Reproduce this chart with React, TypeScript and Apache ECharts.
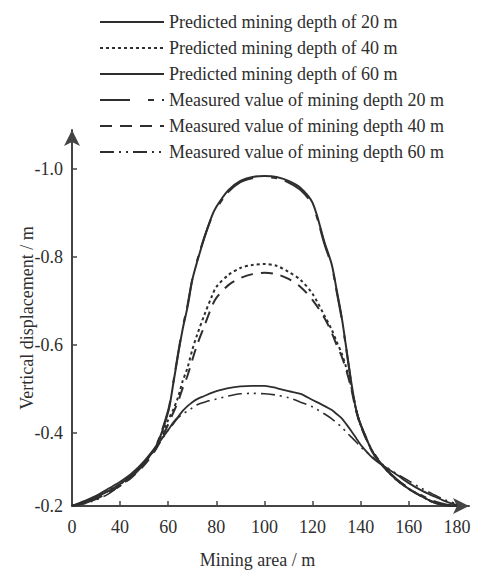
import React, { useEffect, useRef } from "react";
import * as echarts from "echarts";

// x positions along the mining area (axis units; origin labelled "0")
const xValues = [20, 25, 30, 35, 40, 45, 50, 55, 60, 62, 64, 66, 68, 70, 72, 75, 78, 80, 85, 90, 95, 100, 105, 110, 115, 120, 125, 128, 130, 132, 134, 136, 138, 140, 145, 150, 155, 160, 165, 170, 175, 180];

const predicted20 = [-0.234, -0.243, -0.255, -0.268, -0.284, -0.305, -0.332, -0.370, -0.448, -0.509, -0.575, -0.636, -0.686, -0.748, -0.789, -0.843, -0.891, -0.914, -0.952, -0.973, -0.982, -0.984, -0.982, -0.973, -0.957, -0.923, -0.832, -0.782, -0.725, -0.666, -0.593, -0.518, -0.455, -0.418, -0.357, -0.320, -0.293, -0.273, -0.257, -0.243, -0.236, -0.234];
const predicted40 = [-0.234, -0.243, -0.255, -0.268, -0.284, -0.305, -0.332, -0.370, -0.430, -0.452, -0.480, -0.518, -0.548, -0.589, -0.623, -0.668, -0.709, -0.732, -0.759, -0.775, -0.782, -0.784, -0.780, -0.766, -0.748, -0.716, -0.666, -0.634, -0.607, -0.582, -0.548, -0.507, -0.455, -0.418, -0.357, -0.320, -0.293, -0.273, -0.257, -0.243, -0.236, -0.234];
const predicted60 = [-0.234, -0.245, -0.257, -0.273, -0.289, -0.309, -0.336, -0.370, -0.407, -0.423, -0.436, -0.450, -0.461, -0.470, -0.477, -0.484, -0.491, -0.495, -0.502, -0.506, -0.507, -0.507, -0.502, -0.495, -0.489, -0.475, -0.461, -0.452, -0.443, -0.434, -0.420, -0.405, -0.389, -0.373, -0.343, -0.323, -0.305, -0.286, -0.270, -0.257, -0.245, -0.236];
const measured20 = [-0.234, -0.240, -0.251, -0.264, -0.280, -0.301, -0.330, -0.372, -0.452, -0.512, -0.578, -0.640, -0.690, -0.750, -0.792, -0.845, -0.889, -0.910, -0.948, -0.970, -0.979, -0.981, -0.979, -0.969, -0.952, -0.918, -0.828, -0.778, -0.721, -0.662, -0.590, -0.516, -0.455, -0.419, -0.359, -0.322, -0.295, -0.275, -0.259, -0.246, -0.238, -0.234];
const measured40 = [-0.234, -0.241, -0.250, -0.264, -0.280, -0.300, -0.327, -0.364, -0.420, -0.445, -0.470, -0.502, -0.530, -0.566, -0.600, -0.643, -0.686, -0.707, -0.736, -0.752, -0.761, -0.764, -0.761, -0.750, -0.732, -0.702, -0.661, -0.627, -0.600, -0.575, -0.543, -0.502, -0.452, -0.416, -0.355, -0.320, -0.293, -0.273, -0.257, -0.243, -0.236, -0.234];
const measured60 = [-0.234, -0.239, -0.248, -0.261, -0.280, -0.302, -0.332, -0.366, -0.407, -0.420, -0.434, -0.443, -0.450, -0.457, -0.464, -0.470, -0.475, -0.477, -0.484, -0.489, -0.490, -0.489, -0.486, -0.480, -0.470, -0.459, -0.443, -0.432, -0.423, -0.414, -0.402, -0.391, -0.380, -0.368, -0.345, -0.325, -0.307, -0.291, -0.275, -0.261, -0.248, -0.239];

const seriesNames = [
  "Predicted mining depth of 20 m",
  "Predicted mining depth of 40 m",
  "Predicted mining depth of 60 m",
  "Measured value of mining depth 20 m",
  "Measured value of mining depth 40 m",
  "Measured value of mining depth 60 m",
];

const xTickValues = [20, 40, 60, 80, 100, 120, 140, 160, 180];
const xTickLabels = ["0", "40", "60", "80", "100", "120", "140", "160", "180"];
const yTickValues = [-1.0, -0.8, -0.6, -0.4, -0.234];
const yTickLabels = ["-1.0", "-0.8", "-0.6", "-0.4", "-0.2"];

const FONT = '"Times New Roman", "Liberation Serif", serif';
const INK = "#2e2e2e";

export default function App() {
  const ref = useRef<HTMLDivElement>(null);
  useEffect(() => {
    if (!ref.current) return;
    const chart = echarts.init(ref.current, undefined, { renderer: "svg" });
    const pair = (ys: number[]) => xValues.map((x, i) => [x, ys[i]]);
    const allData = [predicted20, predicted40, predicted60, measured20, measured40, measured60];
    const dashes: any[] = ["solid", [3, 3], "solid", [30, 18, 6, 8], [12, 8], [14, 5, 2, 5, 2, 5]];
    const widths = [2, 2, 1.8, 2, 2, 1.6];
    const findLabel = (vals: number[], labels: string[], v: number) => {
      const i = vals.findIndex((t) => Math.abs(t - v) < 1e-6);
      return i >= 0 ? labels[i] : "";
    };
    chart.setOption({
      animation: false,
      backgroundColor: "#ffffff",
      legend: {
        orient: "vertical",
        left: 94,
        top: 7,
        itemWidth: 64,
        itemHeight: 14,
        itemGap: 6,
        itemStyle: { opacity: 0 },
        textStyle: { fontFamily: FONT, fontSize: 18, color: INK, lineHeight: 20 },
        data: seriesNames,
      },
      grid: { left: 72, right: 8, top: 130, bottom: 65, outerBoundsMode: "none", containLabel: false },
      xAxis: {
        type: "value",
        min: 20,
        max: 185,
        name: "Mining area / m",
        nameLocation: "middle",
        nameGap: 45,
        nameMoveOverlap: false,
        nameTextStyle: { fontFamily: FONT, fontSize: 18, color: INK, padding: [0, 26, 0, 0] },
        splitLine: { show: false },
        axisLine: { show: true, symbol: ["none", "arrow"], symbolSize: [12, 16], lineStyle: { color: "#444", width: 2 } },
        axisTick: { show: true, inside: true, length: 5, customValues: xTickValues, lineStyle: { color: "#444", width: 1.5 } },
        axisLabel: {
          customValues: xTickValues,
          formatter: (v: number) => findLabel(xTickValues, xTickLabels, v),
          fontFamily: FONT,
          fontSize: 18,
          color: INK,
          margin: 12,
        },
      },
      yAxis: {
        type: "value",
        inverse: true,
        min: -1.0886,
        max: -0.234,
        name: "Vertical displacement / m",
        nameLocation: "middle",
        nameRotate: 90,
        nameGap: 36,
        nameMoveOverlap: false,
        nameTextStyle: { fontFamily: FONT, fontSize: 18, color: INK },
        splitLine: { show: false },
        axisLine: { show: true, symbol: ["none", "arrow"], symbolSize: [12, 16], lineStyle: { color: "#444", width: 2 } },
        axisTick: { show: true, inside: true, length: 5, customValues: yTickValues, lineStyle: { color: "#444", width: 1.5 } },
        axisLabel: {
          customValues: yTickValues,
          formatter: (v: number) => findLabel(yTickValues, yTickLabels, v),
          fontFamily: FONT,
          fontSize: 18,
          color: INK,
          margin: 9,
        },
      },
      series: seriesNames.map((name, i) => ({
        name,
        type: "line",
        data: pair(allData[i]),
        symbol: "none",
        smooth: 0.3,
        lineStyle: { color: INK, width: widths[i], type: dashes[i] },
        itemStyle: { color: INK, opacity: 0 },
      })),
    });
    return () => chart.dispose();
  }, []);
  return <div ref={ref} style={{ width: 477, height: 571, position: "absolute", left: 0, top: 0 }} />;
}
